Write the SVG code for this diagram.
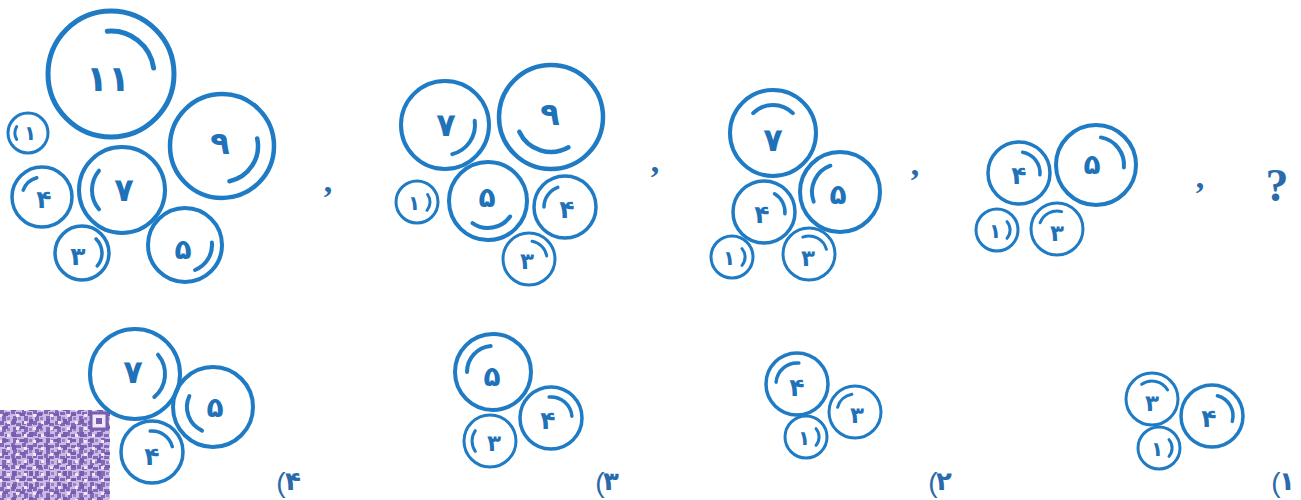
<svg xmlns="http://www.w3.org/2000/svg" width="1301" height="500" viewBox="0 0 1301 500">
<style>
.c{fill:none;stroke:#1f7bc4}
.a{fill:none;stroke:#1f7bc4;stroke-linecap:round}
.d{font-family:"DejaVu Sans",sans-serif;font-weight:bold;fill:#1f72b8;text-anchor:middle}
.cm{font-family:"Liberation Serif",serif;font-weight:bold;fill:#2a6aaa;font-size:34px;text-anchor:middle}
.q{font-family:"Liberation Serif",serif;font-weight:bold;fill:#2a6aaa;font-size:46px;text-anchor:middle}
.lb{font-family:"DejaVu Sans",sans-serif;font-weight:bold;fill:#2a6aaa;font-size:26px;text-anchor:middle}
.pr{font-family:"Liberation Sans",sans-serif;fill:#2a6aaa;font-size:28px;text-anchor:middle}
</style>
<defs>
<pattern id="qr" x="0" y="410" width="11" height="11" patternUnits="userSpaceOnUse">
<rect width="11" height="11" fill="#c9bde6"/>
<rect x="0" y="0" width="4" height="4" fill="#8568b8"/>
<rect x="5" y="2" width="5" height="3" fill="#8568b8"/>
<rect x="2" y="6" width="4" height="5" fill="#8568b8"/>
<rect x="7" y="7" width="3" height="3" fill="#9a82c6"/>
</pattern>
<pattern id="qr2" x="3" y="413" width="17" height="13" patternUnits="userSpaceOnUse">
<rect x="0" y="0" width="5" height="3" fill="#7a5cb0"/>
<rect x="9" y="6" width="4" height="5" fill="#7a5cb0"/>
<rect x="13" y="1" width="3" height="3" fill="#eee8f7"/>
<rect x="4" y="8" width="3" height="3" fill="#eee8f7"/>
</pattern>
</defs>

<g id="qrcode">
<rect x="0" y="410" width="110" height="90" fill="url(#qr)"/>
<rect x="0" y="410" width="110" height="90" fill="url(#qr2)"/>
<rect x="91" y="413" width="16" height="16" fill="#eee8f7" stroke="#7a5cb0" stroke-width="3"/>
<rect x="96" y="418" width="6" height="6" fill="#7a5cb0"/>
</g>

<!-- Group A -->
<g id="a11"><circle class="c" cx="111" cy="74" r="63" stroke-width="5"/><path class="a" stroke-width="5" d="M107.3,31.2 A43,43 0 0 1 153.6,68"/><text class="d" x="108" y="91" font-size="36">۱۱</text></g>
<g id="a1"><circle class="c" cx="28" cy="133" r="20" stroke-width="3"/><path class="a" stroke-width="3" d="M16.7,126.5 A13,13 0 0 0 16.7,139.5"/><text class="d" x="30" y="140" font-size="20">۱</text></g>
<g id="a4"><circle class="c" cx="42" cy="197" r="30" stroke-width="3.5"/><path class="a" stroke-width="3.5" d="M23.2,190.2 A20,20 0 0 1 36.8,177.7"/><text class="d" x="44" y="208" font-size="25">۴</text></g>
<g id="a7"><circle class="c" cx="122" cy="190" r="43" stroke-width="4"/><path class="a" stroke-width="4" d="M99,170.7 A30,30 0 0 0 99,209.3"/><text class="d" x="124" y="201" font-size="32">۷</text></g>
<g id="a9"><circle class="c" cx="222" cy="146" r="52" stroke-width="4.5"/><path class="a" stroke-width="4.5" d="M257.2,138.5 A36,36 0 0 1 229.5,181.2"/><text class="d" x="220" y="154" font-size="32">۹</text></g>
<g id="a5"><circle class="c" cx="185" cy="245" r="37" stroke-width="4"/><path class="a" stroke-width="4" d="M211.9,242.6 A27,27 0 0 1 195.1,270"/><text class="d" x="183" y="259" font-size="28">۵</text></g>
<g id="a3"><circle class="c" cx="82" cy="253" r="27" stroke-width="3.5"/><path class="a" stroke-width="3.5" d="M96.1,238.9 A20,20 0 0 1 97.3,265.9"/><text class="d" x="78" y="265" font-size="25">۳</text></g>
<text class="cm" x="328" y="192">,</text>

<!-- Group B -->
<g id="b7"><circle class="c" cx="445" cy="125" r="44" stroke-width="4"/><path class="a" stroke-width="4" d="M474.7,120.8 A30,30 0 0 1 452.3,154.1"/><text class="d" x="446" y="136" font-size="32">۷</text></g>
<g id="b9"><circle class="c" cx="551" cy="117" r="52" stroke-width="4.5"/><path class="a" stroke-width="4.5" d="M568.5,147.3 A35,35 0 0 1 519.3,131.8"/><text class="d" x="550" y="125" font-size="32">۹</text></g>
<g id="b5"><circle class="c" cx="488" cy="201" r="39" stroke-width="4"/><path class="a" stroke-width="4" d="M510.1,216.5 A27,27 0 0 1 472.5,223.1"/><text class="d" x="487" y="207" font-size="28">۵</text></g>
<g id="b1"><circle class="c" cx="417" cy="202" r="21" stroke-width="3"/><path class="a" stroke-width="3" d="M427.6,194.5 A13,13 0 0 1 427,210.4"/><text class="d" x="414" y="210" font-size="20">۱</text></g>
<g id="b4"><circle class="c" cx="565" cy="207" r="31" stroke-width="3.5"/><path class="a" stroke-width="3.5" d="M544,207 A21,21 0 0 1 557.8,187.3"/><text class="d" x="567" y="218" font-size="25">۴</text></g>
<g id="b3"><circle class="c" cx="529" cy="259" r="26" stroke-width="3"/><path class="a" stroke-width="3" d="M532.1,241.3 A18,18 0 0 1 546.7,255.9"/><text class="d" x="527" y="269" font-size="23">۳</text></g>
<text class="cm" x="655" y="172">,</text>

<!-- Group C -->
<g id="c7"><circle class="c" cx="773" cy="133" r="43" stroke-width="4"/><path class="a" stroke-width="4" d="M753.2,113.2 A28,28 0 0 1 792.8,113.2"/><text class="d" x="773" y="151" font-size="32">۷</text></g>
<g id="c5"><circle class="c" cx="840" cy="192" r="40" stroke-width="4"/><path class="a" stroke-width="4" d="M830.4,165.7 A28,28 0 0 0 813.7,201.6"/><text class="d" x="838" y="204" font-size="28">۵</text></g>
<g id="c4"><circle class="c" cx="764" cy="212" r="31" stroke-width="3.5"/><path class="a" stroke-width="3.5" d="M774.5,193.8 A21,21 0 0 1 784.9,213.8"/><text class="d" x="762" y="223" font-size="25">۴</text></g>
<g id="c1"><circle class="c" cx="732" cy="257" r="21" stroke-width="3"/><path class="a" stroke-width="3" d="M742,248.6 A13,13 0 0 1 742,265.4"/><text class="d" x="729" y="265" font-size="20">۱</text></g>
<g id="c3"><circle class="c" cx="809" cy="254" r="26" stroke-width="3"/><path class="a" stroke-width="3" d="M802.8,237.1 A18,18 0 0 1 826.4,249.3"/><text class="d" x="808" y="266" font-size="23">۳</text></g>
<text class="cm" x="915" y="175">,</text>

<!-- Group D -->
<g id="d4"><circle class="c" cx="1019" cy="173" r="31" stroke-width="3.5"/><path class="a" stroke-width="3.5" d="M1022.6,152.3 A21,21 0 0 1 1039.9,174.8"/><text class="d" x="1019" y="184" font-size="25">۴</text></g>
<g id="d5"><circle class="c" cx="1096" cy="165" r="40" stroke-width="4"/><path class="a" stroke-width="4" d="M1100.9,137.4 A28,28 0 0 1 1123.9,167.4"/><text class="d" x="1092" y="174" font-size="28">۵</text></g>
<g id="d1"><circle class="c" cx="997" cy="230" r="21" stroke-width="3"/><path class="a" stroke-width="3" d="M1007,221.6 A13,13 0 0 1 1007,238.4"/><text class="d" x="995" y="238" font-size="20">۱</text></g>
<g id="d3"><circle class="c" cx="1057" cy="229" r="26" stroke-width="3"/><path class="a" stroke-width="3" d="M1040.1,222.8 A18,18 0 0 1 1061.7,211.6"/><text class="d" x="1057" y="241" font-size="23">۳</text></g>
<text class="cm" x="1200" y="188">,</text>
<text class="q" x="1277" y="201">?</text>

<!-- Option 4 -->
<g id="o4_7"><circle class="c" cx="135" cy="374" r="45" stroke-width="4"/><path class="a" stroke-width="4" d="M158,354.7 A30,30 0 0 1 154.3,397"/><text class="d" x="133" y="383" font-size="32">۷</text></g>
<g id="o4_5"><circle class="c" cx="213" cy="407" r="40" stroke-width="4"/><path class="a" stroke-width="4" d="M189.4,396 A26,26 0 0 0 202,430.6"/><text class="d" x="215" y="417" font-size="28">۵</text></g>
<g id="o4_4"><circle class="c" cx="152" cy="452" r="31" stroke-width="3.5"/><path class="a" stroke-width="3.5" d="M150.2,431.1 A21,21 0 0 1 172.3,446.6"/><text class="d" x="152" y="465" font-size="25">۴</text></g>
<g id="label4"><text class="pr" x="281" y="492">(</text><text class="lb" x="293" y="490">۴</text></g>

<!-- Option 3 -->
<g id="o3_5"><circle class="c" cx="493" cy="372" r="38" stroke-width="4"/><path class="a" stroke-width="4" d="M467,372 A26,26 0 0 1 490.7,346.1"/><text class="d" x="492" y="386" font-size="28">۵</text></g>
<g id="o3_4"><circle class="c" cx="551" cy="418" r="31" stroke-width="3.5"/><path class="a" stroke-width="3.5" d="M549.2,397.1 A21,21 0 0 1 571.9,416.2"/><text class="d" x="548" y="429" font-size="25">۴</text></g>
<g id="o3_3"><circle class="c" cx="490" cy="441" r="26" stroke-width="3"/><path class="a" stroke-width="3" d="M475.3,430.7 A18,18 0 0 0 475.3,451.3"/><text class="d" x="494" y="451" font-size="23">۳</text></g>
<g id="label3"><text class="pr" x="600" y="492">(</text><text class="lb" x="611" y="490">۳</text></g>

<!-- Option 2 -->
<g id="o2_4"><circle class="c" cx="797" cy="384" r="31" stroke-width="3.5"/><path class="a" stroke-width="3.5" d="M776.1,382.2 A21,21 0 0 1 798.8,363.1"/><text class="d" x="797" y="396" font-size="25">۴</text></g>
<g id="o2_3"><circle class="c" cx="855" cy="412" r="26" stroke-width="3"/><path class="a" stroke-width="3" d="M837.6,407.3 A18,18 0 0 1 851.9,394.3"/><text class="d" x="857" y="423" font-size="23">۳</text></g>
<g id="o2_1"><circle class="c" cx="806" cy="437" r="21" stroke-width="3"/><path class="a" stroke-width="3" d="M816,428.6 A13,13 0 0 1 816,445.4"/><text class="d" x="804" y="445" font-size="20">۱</text></g>
<g id="label2"><text class="pr" x="933" y="492">(</text><text class="lb" x="944" y="490">۲</text></g>

<!-- Option 1 -->
<g id="o1_3"><circle class="c" cx="1152" cy="399" r="26" stroke-width="3"/><path class="a" stroke-width="3" d="M1141.7,384.3 A18,18 0 0 1 1167.6,390"/><text class="d" x="1152" y="411" font-size="23">۳</text></g>
<g id="o1_4"><circle class="c" cx="1212" cy="416" r="31" stroke-width="3.5"/><path class="a" stroke-width="3.5" d="M1217.4,395.7 A21,21 0 0 1 1232.3,421.4"/><text class="d" x="1209" y="427" font-size="25">۴</text></g>
<g id="o1_1"><circle class="c" cx="1159" cy="448" r="21" stroke-width="3"/><path class="a" stroke-width="3" d="M1169,439.6 A13,13 0 0 1 1169,456.4"/><text class="d" x="1157" y="456" font-size="20">۱</text></g>
<g id="label1"><text class="pr" x="1276" y="492">(</text><text class="lb" x="1287" y="490">۱</text></g>
</svg>
